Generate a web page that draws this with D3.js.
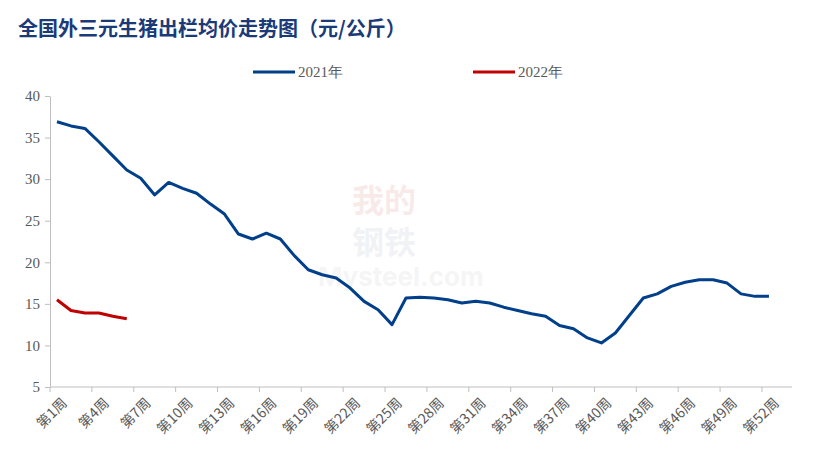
<!DOCTYPE html><html><head><meta charset="utf-8"><script src="https://d3js.org/d3.v7.min.js"></script>
<style>body{margin:0;background:#fff}</style></head><body><svg id="c" width="816" height="461"></svg>
<script>
const weeks = d3.range(1,53).map(i=>"第"+i+"周");
const y2021 = [36.9,36.4,36.1,34.5,32.8,31.1,30.1,28.1,29.6,28.9,28.3,27.0,25.8,23.4,22.8,23.5,22.8,20.8,19.1,18.5,18.1,16.9,15.3,14.3,12.5,15.7,15.8,15.7,15.5,15.1,15.3,15.1,14.6,14.2,13.8,13.5,12.4,12.0,10.9,10.3,11.5,13.6,15.7,16.2,17.1,17.6,17.9,17.9,17.5,16.2,15.9,15.9];
const y2022 = [15.5,14.2,13.9,13.9,13.5,13.2];
const yTicks = [5,10,15,20,25,30,35,40];
const seriesNames = ["2021年","2022年"];
const colors = ["#003f8a","#c00000"];

const svg = d3.select("#c");
const L=50,R=792,T=96,B=387;
const step=13.96;
const x = d3.scalePoint().domain(weeks).range([L+step/2, L+step/2+51*step]);
const y = d3.scaleLinear().domain([5,40]).range([B,T]);
const serif = "'Liberation Serif','Times New Roman',serif";

svg.append("text").attr("x",18).attr("y",36).attr("font-family","'Noto Sans CJK SC',serif")
  .attr("font-weight","bold").attr("font-size",20).attr("fill","#1a3a78").text("全国外三元生猪出栏均价走势图（元/公斤）");

const ya = svg.append("g").attr("transform",`translate(${L},0)`)
  .call(d3.axisLeft(y).tickValues(yTicks).tickSize(5).tickSizeOuter(0));
ya.select(".domain").attr("stroke","#bfbfbf");
ya.selectAll("line").attr("stroke","#bfbfbf");
ya.selectAll("text").attr("font-family",serif).attr("font-size",15).attr("fill","#595959").attr("dx",-2);

svg.append("line").attr("x1",L).attr("x2",R).attr("y1",B).attr("y2",B).attr("stroke","#bfbfbf");
for(let k=0;k<=51;k+=3){const tx=x(weeks[k])-step/2;
  svg.append("line").attr("x1",tx).attr("x2",tx).attr("y1",B).attr("y2",B+5).attr("stroke","#bfbfbf");}
weeks.forEach((w,i)=>{ if(i%3) return;
  svg.append("text").attr("transform",`translate(${x(w)+4},${B+10}) rotate(-45)`).attr("text-anchor","end")
   .attr("dy","0.7em").attr("font-family","'Noto Sans CJK SC',"+serif).attr("font-size",14).attr("fill","#595959").text(w);});

svg.append("text").attr("x",352).attr("y",212).attr("font-family","'Noto Sans CJK SC'").attr("font-size",32).attr("font-weight","bold").attr("fill","#c00000").attr("opacity",0.08).text("我的");
svg.append("text").attr("x",352).attr("y",254).attr("font-family","'Noto Sans CJK SC'").attr("font-size",32).attr("font-weight","bold").attr("fill","#1f3864").attr("opacity",0.06).text("钢铁");
svg.append("text").attr("x",318).attr("y",286).attr("font-family","Inter,sans-serif").attr("font-size",26).attr("font-weight","bold").attr("fill","#888").attr("opacity",0.08).text("Mysteel.com");

const line = d3.line().x((d,i)=>x(weeks[i])).y(d=>y(d));
[y2021,y2022].forEach((s,j)=>svg.append("path").datum(s).attr("d",line).attr("fill","none")
  .attr("stroke",colors[j]).attr("stroke-width",3).attr("stroke-linejoin","round"));

[[253,seriesNames[0]],[473,seriesNames[1]]].forEach(([lx,t],j)=>{
  svg.append("line").attr("x1",lx).attr("x2",lx+42).attr("y1",72).attr("y2",72).attr("stroke",colors[j]).attr("stroke-width",3);
  svg.append("text").attr("x",lx+45).attr("y",77).attr("font-family",serif).attr("font-size",15).attr("fill","#595959").text(t);});
</script></body></html>
